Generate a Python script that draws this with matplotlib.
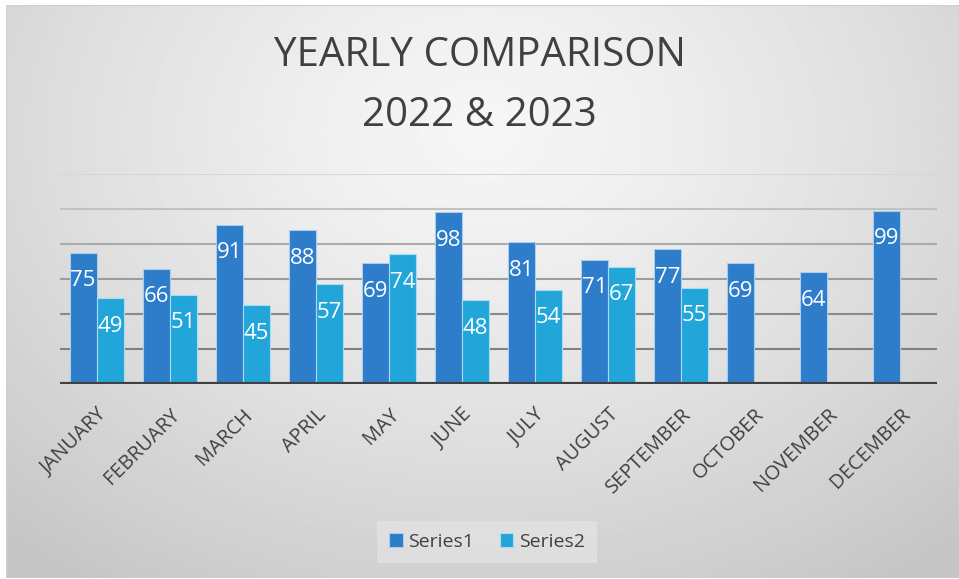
import numpy as np
import matplotlib.pyplot as plt
from matplotlib.patches import Rectangle

months = ["JANUARY", "FEBRUARY", "MARCH", "APRIL", "MAY", "JUNE", "JULY",
          "AUGUST", "SEPTEMBER", "OCTOBER", "NOVEMBER", "DECEMBER"]
series1 = [75, 66, 91, 88, 69, 98, 81, 71, 77, 69, 64, 99]
series2 = [49, 51, 45, 57, 74, 48, 54, 67, 55, None, None, None]
grid_values = [20, 40, 60, 80, 100, 120]

plt.rcParams['font.family'] = ['Open Sans', 'DejaVu Sans']

fig = plt.figure(figsize=(9.59, 5.79), dpi=100)
fig.patch.set_facecolor('white')

# radial grey background of the chart area
bg = fig.add_axes([6 / 959, 1 / 579, 953 / 959, 573 / 579])
h, w = 300, 500
yy, xx = np.mgrid[0:h, 0:w]
d = np.sqrt(((xx / w - 0.5) / 0.75) ** 2 + ((yy / h - 0.22) / 0.95) ** 2)
shade = 0.965 - 0.19 * np.clip(d, 0, 1) ** 1.3
bg.imshow(shade, cmap='gray', vmin=0, vmax=1, aspect='auto', extent=[0, 1, 0, 1],
          origin='upper', interpolation='bilinear')
bg.set_axis_off()
bg.add_patch(Rectangle((0, 0), 1, 1, transform=bg.transAxes, fill=False,
                       edgecolor='#d0d0d0', lw=1))

ax = fig.add_axes([60 / 959, 1 - 384 / 579, 877 / 959, 210 / 579])
ax.set_facecolor('none')

x = np.arange(len(months))
bw = 0.37
c1 = '#2E7DCA'
c2 = '#22A6DA'

grid_colors = ['#808080', '#8a8a8a', '#9c9c9c', '#ababab', '#c2c2c2', '#d6d6d6']
for gv, gc in zip(grid_values, grid_colors):
    ax.axhline(gv, color=gc, lw=1.5, zorder=1)

s2 = [np.nan if v is None else v for v in series2]
b1 = ax.bar(x - bw / 2, series1, bw, color=c1, edgecolor='#a8cdee', lw=0.8,
            label='Series1', zorder=2)
b2 = ax.bar(x + bw / 2, s2, bw, color=c2, edgecolor='#a8dcf0', lw=0.8,
            label='Series2', zorder=2)

for xi, v in zip(x, series1):
    ax.text(xi - bw / 2, v - 16, str(v), ha='center', va='center',
            color='white', fontsize=16, zorder=3)
for xi, v in zip(x, series2):
    if v is not None:
        ax.text(xi + bw / 2, v - 16, str(v), ha='center', va='center',
                color='white', fontsize=16, zorder=3)

ax.axhline(0, color='#404040', lw=3, zorder=4)
ax.set_xlim(-0.5, len(months) - 0.5)
ax.set_ylim(0, 120)
ax.set_yticks([])
ax.set_xticks(x)
ax.set_xticklabels(months, rotation=45, ha='right', rotation_mode='anchor',
                   fontsize=14.5, color='#404040')
ax.tick_params(axis='x', length=0, pad=15)
for s in ax.spines.values():
    s.set_visible(False)

fig.text(0.5, 1 - 56 / 579, "YEARLY COMPARISON", ha='center', va='center',
         fontsize=29, color='#404040')
fig.text(0.5, 1 - 116 / 579, "2022 & 2023", ha='center', va='center',
         fontsize=29, color='#404040')

leg = fig.legend(loc='center', bbox_to_anchor=(487 / 959, 1 - 542 / 579), ncol=2,
                 frameon=True, fancybox=False, fontsize=14, handlelength=0.7,
                 handleheight=0.7, handletextpad=0.3, columnspacing=1.3,
                 borderpad=0.6)
leg.get_frame().set_facecolor('#e2e2e2')
leg.get_frame().set_edgecolor('none')
leg.get_frame().set_alpha(0.8)
for t in leg.get_texts():
    t.set_color('#404040')

fig.savefig('out.png', dpi=100)
